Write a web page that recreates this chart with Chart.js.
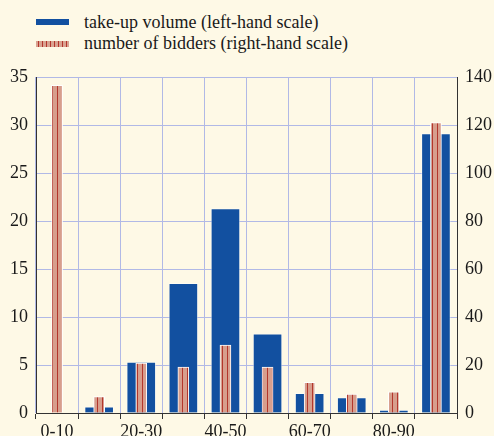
<!DOCTYPE html>
<html>
<head>
<meta charset="utf-8">
<script src="https://cdn.jsdelivr.net/npm/chart.js@4.4.1/dist/chart.umd.min.js"></script>
<style>
html,body{margin:0;padding:0;background:#fef9e6;overflow:hidden;}
#wrap{position:absolute;left:0;top:0;width:494px;height:450px;}
.leg{position:absolute;left:36px;height:20px;font-size:18px;font-family:"Liberation Serif","Times New Roman",serif;color:#1a1a1a;white-space:nowrap;}
.leg span.sw{position:absolute;left:0;width:33px;height:6px;}
.leg span.tx{position:absolute;left:48px;top:0;line-height:20px;}
</style>
</head>
<body>
<div class="leg" style="top:12px"><span class="sw" style="top:7px;background:#1250a0"></span><span class="tx">take-up volume (left-hand scale)</span></div>
<div class="leg" style="top:33px"><span class="sw" style="top:8px;background:repeating-linear-gradient(90deg,#d9a391 0 2px,#b3362c 2px 3px,#d9a391 3px 4px)"></span><span class="tx">number of bidders (right-hand scale)</span></div>
<div id="wrap"><canvas id="chart"></canvas></div>
<script>
const categories = ['0-10','10-20','20-30','30-40','40-50','50-60','60-70','70-80','80-90','90-100'];
const takeUpVolume = [null,0.65,5.3,13.5,21.3,8.25,2.05,1.6,0.3,29.1];
const bidders = [136.5,6.8,20.8,19.1,28.3,19.1,12.8,7.9,8.8,121];
const leftMax = 35, leftStep = 5;
const rightMax = 140, rightStep = 20;

function stripePattern() {
	const c = document.createElement('canvas');
	c.width = 5; c.height = 5;
	const g = c.getContext('2d');
	g.fillStyle = '#d79e8d';
	g.fillRect(0, 0, 5, 5);
	g.fillStyle = '#b3362c';
	g.fillRect(2, 0, 1, 5);
	return g.createPattern(c, 'repeat');
}

const serif = '"Liberation Serif", "Times New Roman", serif';
const tickFont = {family: serif, size: 18};
const gridBlue = '#b1b9e6';

const ctx = document.querySelector('#chart');
let chart = new Chart(ctx, {
	type: 'bar',
	data: {
		labels: categories,
		datasets: [{
			label: 'take-up volume (left-hand scale)',
			data: takeUpVolume,
			yAxisID: 'y',
			backgroundColor: '#1250a0',
			borderColor: 'rgba(255,255,255,0.45)',
			borderWidth: 1,
			barThickness: 29,
			grouped: false,
			order: 2
		}, {
			label: 'number of bidders (right-hand scale)',
			data: bidders,
			yAxisID: 'y1',
			backgroundColor: stripePattern(),
			borderColor: '#ffffff',
			borderWidth: 1,
			barThickness: 11,
			grouped: false,
			order: 1
		}]
	},
	options: {
		responsive: true,
		maintainAspectRatio: false,
		animation: false,
		layout: {padding: {top: 77, left: 0, right: 0, bottom: 0}},
		plugins: {legend: {display: false}, tooltip: {enabled: false}},
		scales: {
			x: {
				offset: true,
				grid: {offset: true, color: gridBlue, tickColor: '#333', tickLength: 6, lineWidth: 1},
				border: {color: '#333', width: 1},
				ticks: {
					font: tickFont, color: '#1a1a1a', padding: 2, autoSkip: false, maxRotation: 0,
					callback: function(v, i) { return i % 2 === 0 ? categories[i] : ''; }
				},
				afterFit: function(s) { s.height = 37; }
			},
			y: {
				position: 'left',
				min: 0, max: leftMax,
				ticks: {stepSize: leftStep, font: tickFont, color: '#1a1a1a', padding: 8},
				grid: {color: gridBlue, drawTicks: false},
				border: {color: '#333', width: 1},
				afterFit: function(s) { s.width = 36; }
			},
			y1: {
				position: 'right',
				min: 0, max: rightMax,
				ticks: {stepSize: rightStep, font: tickFont, color: '#1a1a1a', padding: 8},
				grid: {drawOnChartArea: false, drawTicks: false},
				border: {color: '#333', width: 1},
				afterFit: function(s) { s.width = 37; }
			}
		}
	}
});
</script>
</body>
</html>
